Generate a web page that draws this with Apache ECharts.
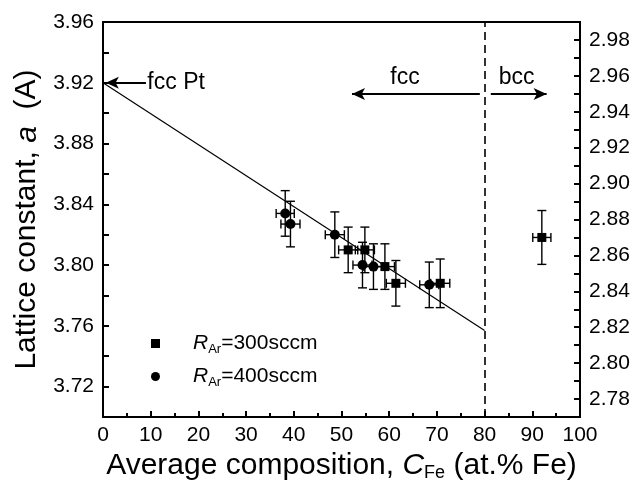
<!DOCTYPE html>
<html>
<head>
<meta charset="utf-8">
<script src="https://cdn.jsdelivr.net/npm/echarts@6/dist/echarts.min.js"></script>
<style>
html, body { margin: 0; padding: 0; background: #fff; }
#chart { width: 644px; height: 489px; }
</style>
</head>
<body>
<div id="chart"></div>
<script>
// R_Ar = 300 sccm (squares), fcc phase, left axis
var x300 = [51.4, 54.9, 59.1, 61.4, 70.7];
var y300 = [3.810, 3.810, 3.799, 3.788, 3.788];
var xErr300 = [2.0, 2.0, 2.0, 2.0, 2.0];
var yErr300 = [0.015, 0.015, 0.015, 0.015, 0.016];

// R_Ar = 400 sccm (circles), fcc phase, left axis
var x400 = [38.2, 39.3, 48.6, 54.4, 56.7, 68.4];
var y400 = [3.834, 3.827, 3.820, 3.800, 3.799, 3.787];
var xErr400 = [1.9, 2.0, 2.0, 2.0, 2.0, 2.0];
var yErr400 = [0.015, 0.015, 0.015, 0.015, 0.015, 0.015];

// bcc sample (300 sccm), read on the right axis
var xBcc = [92.0];
var yBcc = [2.870];
var xErrBcc = [1.9];
var yErrBcc = [0.015];

// linear trend from fcc Pt to the phase boundary
var fitX = [0, 80];
var fitY = [3.920, 3.757];
var boundaryX = 80;

// annotations: arrow tail, arrow head, text and where the text sits
var arrowTail = [[9.0, 3.920], [79.0, 3.9126], [81.3, 3.9126]];
var arrowHead = [[0.6, 3.920], [52.2, 3.9126], [93.0, 3.9126]];
var noteText = ['fcc Pt', 'fcc', 'bcc'];
var notePos = [[9.3, 3.920], [63.3, 3.9235], [86.7, 3.9235]];

var legendNames = ['300sccm', '400sccm'];

var FONT = 'Liberation Sans, Arial, Helvetica, sans-serif';

function zip(xs, ys) {
	return xs.map(function (x, i) { return [x, ys[i]]; });
}
function zipErr(xs, ys, ex, ey) {
	return xs.map(function (x, i) { return [x, ys[i], ex[i], ey[i]]; });
}

function errorBars(params, api) {
	var x = api.value(0), y = api.value(1), ex = api.value(2), ey = api.value(3);
	var top = api.coord([x, y + ey]);
	var bot = api.coord([x, y - ey]);
	var l = api.coord([x - ex, y]);
	var r = api.coord([x + ex, y]);
	var cap = 4.5;
	var st = { stroke: '#000', lineWidth: 1.4 };
	function seg(x1, y1, x2, y2) {
		return { type: 'line', shape: { x1: x1, y1: y1, x2: x2, y2: y2 }, style: st };
	}
	return {
		type: 'group',
		children: [
			seg(top[0], top[1], bot[0], bot[1]),
			seg(top[0] - cap, top[1], top[0] + cap, top[1]),
			seg(bot[0] - cap, bot[1], bot[0] + cap, bot[1]),
			seg(l[0], l[1], r[0], r[1]),
			seg(l[0], l[1] - cap, l[0], l[1] + cap),
			seg(r[0], r[1] - cap, r[0], r[1] + cap)
		]
	};
}

var chart = echarts.init(document.getElementById('chart'), null, { renderer: 'canvas' });

var tickFont = { color: '#000', fontSize: 21, fontFamily: FONT };

chart.setOption({
	animation: false,
	backgroundColor: '#fff',
	textStyle: { fontFamily: FONT, color: '#000' },
	grid: {
		left: 103, right: 64, top: 22, bottom: 72,
		show: true, borderColor: '#000', borderWidth: 2
	},
	legend: {
		data: legendNames,
		orient: 'vertical',
		left: 146,
		top: 328,
		itemWidth: 9,
		itemHeight: 9,
		itemGap: 10,
		selectedMode: false,
		formatter: function (name) {
			return '{r|R}{s|Ar}{t|=' + name + '}';
		},
		textStyle: {
			color: '#000',
			rich: {
				r: { fontSize: 21, fontStyle: 'italic', fontFamily: FONT, padding: [0, 0, 0, 28] },
				s: { fontSize: 13, fontFamily: FONT, padding: [12, 0, 0, 0] },
				t: { fontSize: 21, fontFamily: FONT }
			}
		}
	},
	xAxis: {
		type: 'value',
		min: 0,
		max: 100,
		interval: 10,
		name: 'Average composition, {i|C}{s|Fe}{n| (at.% Fe)}',
		nameLocation: 'middle',
		nameGap: 32,
		nameTextStyle: {
			fontSize: 30, fontFamily: FONT, color: '#000',
			rich: {
				i: { fontSize: 30, fontStyle: 'italic', fontFamily: FONT },
				s: { fontSize: 18, fontFamily: FONT, padding: [15, 0, 0, 0] },
				n: { fontSize: 30, fontFamily: FONT }
			}
		},
		axisLine: { show: true, lineStyle: { color: '#000', width: 2 } },
		axisTick: { inside: true, length: 6, lineStyle: { color: '#000', width: 2 } },
		minorTick: { show: true, splitNumber: 2, length: 4, lineStyle: { color: '#000', width: 2 } },
		axisLabel: Object.assign({ margin: 8 }, tickFont),
		splitLine: { show: false }
	},
	yAxis: [{
		type: 'value',
		min: 3.70,
		max: 3.96,
		interval: 0.02,
		name: '{n|Lattice constant, }{i|a}{n|  (A)}',
		nameLocation: 'middle',
		nameGap: 60,
		nameRotate: 90,
		nameTextStyle: {
			fontSize: 30, fontFamily: FONT, color: '#000',
			rich: {
				n: { fontSize: 30, fontFamily: FONT },
				i: { fontSize: 30, fontStyle: 'italic', fontFamily: FONT }
			}
		},
		axisLine: { show: true, lineStyle: { color: '#000', width: 2 } },
		axisTick: { inside: true, length: 6, lineStyle: { color: '#000', width: 2 } },
		axisLabel: Object.assign({
			margin: 9,
			showMinLabel: true,
			formatter: function (v) {
				var k = Math.round(v * 100);
				return k % 4 === 0 ? v.toFixed(2) : '';
			}
		}, tickFont),
		splitLine: { show: false }
	}, {
		type: 'value',
		position: 'right',
		min: 2.77,
		max: 2.99,
		interval: 0.01,
		axisLine: { show: true, lineStyle: { color: '#000', width: 2 } },
		axisTick: { inside: true, length: 6, lineStyle: { color: '#000', width: 2 } },
		axisLabel: Object.assign({
			margin: 9,
			formatter: function (v) {
				var k = Math.round(v * 100);
				return k % 2 === 0 ? v.toFixed(2) : '';
			}
		}, tickFont),
		splitLine: { show: false }
	}],
	series: [
		{
			name: 'fit',
			type: 'line',
			data: zip(fitX, fitY),
			symbol: 'none',
			silent: true,
			lineStyle: { color: '#000', width: 1.2 },
			markLine: {
				silent: true,
				symbol: ['none', 'arrow'],
				symbolSize: [9, 13],
				label: { show: false },
				lineStyle: { color: '#000', width: 1.8, type: 'solid' },
				data: arrowTail.map(function (p, i) {
					return [{ coord: p }, { coord: arrowHead[i] }];
				})
			}
		},
		{
			name: 'boundary',
			type: 'line',
			data: [],
			markLine: {
				silent: true,
				symbol: 'none',
				label: { show: false },
				lineStyle: { color: '#000', width: 1.6, type: [8, 5] },
				data: [{ xAxis: boundaryX }]
			}
		},
		{
			type: 'custom',
			renderItem: errorBars,
			data: zipErr(x300, y300, xErr300, yErr300),
			encode: { x: 0, y: 1 },
			silent: true,
			z: 3
		},
		{
			type: 'custom',
			renderItem: errorBars,
			data: zipErr(x400, y400, xErr400, yErr400),
			encode: { x: 0, y: 1 },
			silent: true,
			z: 3
		},
		{
			type: 'custom',
			yAxisIndex: 1,
			renderItem: errorBars,
			data: zipErr(xBcc, yBcc, xErrBcc, yErrBcc),
			encode: { x: 0, y: 1 },
			silent: true,
			z: 3
		},
		{
			name: legendNames[0],
			type: 'scatter',
			symbol: 'rect',
			symbolSize: 9,
			itemStyle: { color: '#000', opacity: 1 },
			data: zip(x300, y300),
			z: 4
		},
		{
			name: legendNames[0],
			type: 'scatter',
			yAxisIndex: 1,
			symbol: 'rect',
			symbolSize: 9,
			itemStyle: { color: '#000', opacity: 1 },
			data: zip(xBcc, yBcc),
			z: 4
		},
		{
			name: legendNames[1],
			type: 'scatter',
			symbol: 'circle',
			symbolSize: 10,
			itemStyle: { color: '#000', opacity: 1 },
			data: zip(x400, y400),
			z: 4
		},
		{
			name: 'notes',
			type: 'scatter',
			symbolSize: 0,
			silent: true,
			itemStyle: { color: '#000', opacity: 1 },
			data: notePos.map(function (p, i) {
				return {
					value: p,
					name: noteText[i],
					label: { position: i === 0 ? 'right' : 'inside', distance: 0 }
				};
			}),
			label: {
				show: true,
				formatter: '{b}',
				color: '#000',
				fontSize: 23,
				fontFamily: FONT
			}
		}
	]
});
</script>
</body>
</html>
